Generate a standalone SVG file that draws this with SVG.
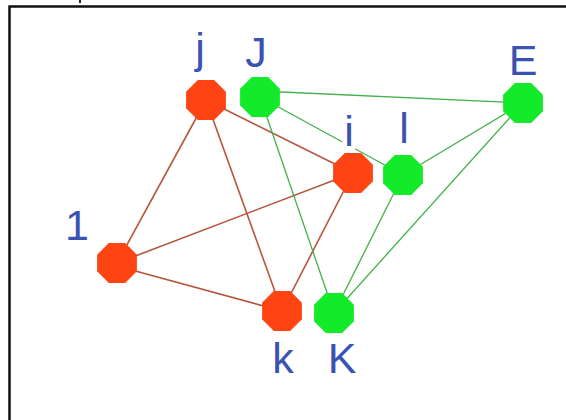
<svg xmlns="http://www.w3.org/2000/svg" xmlns:xlink="http://www.w3.org/1999/xlink" width="566" height="420" viewBox="0 0 566 420">
<style>
.red{fill:#ff4414}
.green{fill:#12ea2a}
.er{stroke:#b4553c;stroke-width:1.6;fill:none}
.eg{stroke:#43b048;stroke-width:1.3;fill:none}
.lbl{font-family:"Liberation Sans",Arial,sans-serif;font-size:43px;fill:#3a52b4;text-anchor:middle}
.bg{paint-order:stroke;stroke:#ffffff;stroke-width:10px;stroke-linejoin:round}
</style>
<defs>
<polygon id="oct" points="19.9,8.2 8.2,19.9 -8.2,19.9 -19.9,8.2 -19.9,-8.2 -8.2,-19.9 8.2,-19.9 19.9,-8.2"/>
</defs>
<rect x="0" y="0" width="566" height="420" fill="#ffffff"/>
<rect x="9.5" y="6.5" width="600" height="460" fill="none" stroke="#111111" stroke-width="2.5"/>
<rect x="79" y="0" width="2" height="3" fill="#222222"/>
<g id="connectors">
<line class="er" x1="206" y1="100" x2="117" y2="263"/>
<line class="er" x1="206" y1="100" x2="282" y2="311"/>
<line class="er" x1="206" y1="100" x2="353" y2="173"/>
<line class="er" x1="117" y1="263" x2="353" y2="173"/>
<line class="er" x1="117" y1="266" x2="282" y2="311"/>
<line class="er" x1="353" y1="173" x2="282" y2="311"/>
<line class="eg" x1="260" y1="91" x2="523" y2="103"/>
<line class="eg" x1="260" y1="97" x2="334" y2="313"/>
<line class="eg" x1="260" y1="97" x2="403" y2="175"/>
<line class="eg" x1="523" y1="103" x2="403" y2="175"/>
<line class="eg" x1="523" y1="103" x2="334" y2="313"/>
<line class="eg" x1="403" y1="175" x2="334" y2="313"/>
</g>
<g id="node-j"><use xlink:href="#oct" x="206" y="100" class="red"/><text class="lbl" x="200" y="63">j</text></g>
<g id="node-J"><use xlink:href="#oct" x="260" y="97" class="green"/><text class="lbl" x="256" y="67">J</text></g>
<g id="node-E"><use xlink:href="#oct" x="523" y="103" class="green"/><text class="lbl" x="523" y="75">E</text></g>
<g id="node-i"><use xlink:href="#oct" x="353" y="173" class="red"/><text class="lbl bg" x="349" y="146">i</text></g>
<g id="node-l"><use xlink:href="#oct" x="403" y="175" class="green"/><text class="lbl" x="404" y="143">l</text></g>
<g id="node-1"><use xlink:href="#oct" x="117" y="263" class="red"/><text class="lbl" x="77" y="240">1</text></g>
<g id="node-k"><use xlink:href="#oct" x="282" y="311" class="red"/><text class="lbl" x="283" y="373">k</text></g>
<g id="node-K"><use xlink:href="#oct" x="334" y="313" class="green"/><text class="lbl" x="342" y="373">K</text></g>
</svg>
